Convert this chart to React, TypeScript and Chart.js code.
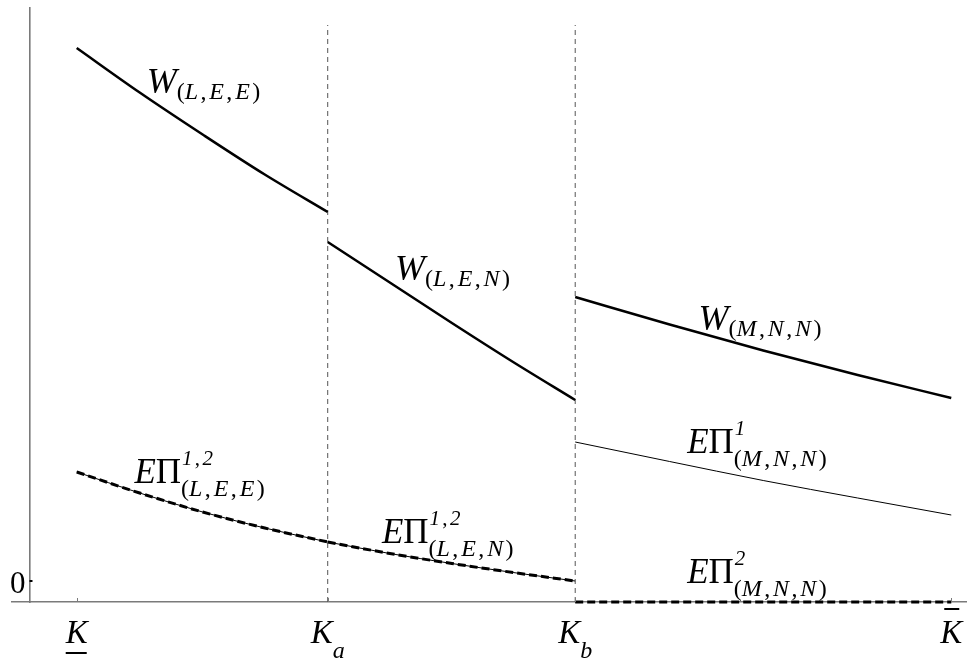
import { useEffect, useRef } from 'react';
import { Chart, registerables } from 'chart.js';

Chart.register(...registerables);

// Capacity thresholds on the horizontal axis
const K_LOW = 1;
const K_A = 3.87;
const K_B = 6.7;
const K_HIGH = 11;

// Axis ranges
const X_MIN = 0.26;
const X_MAX = 11.18;
const Y_MIN = -0.42;
const Y_MAX = 11.46;
const Y_AXIS_AT = 0.46;
const THRESHOLD_TOP = 11.12;

// Sample capacities inside each regime
const X_REGION1 = [1, 1.72, 2.44, 3.15, 3.87];
const X_REGION2 = [3.87, 4.58, 5.29, 5.99, 6.7];
const X_REGION3 = [6.7, 7.78, 8.85, 9.93, 11];

// Welfare in each regime
const W_LEE = [10.66, 9.77, 8.93, 8.13, 7.38];
const W_LEN = [6.78, 5.97, 5.16, 4.38, 3.62];
const W_MNN = [5.68, 5.13, 4.61, 4.12, 3.66];

// Expected profits of firms 1 and 2
const EPI12_LEE = [2.18, 1.76, 1.38, 1.06, 0.78];
const EPI12_LEN = [0.78, 0.55, 0.35, 0.17, 0];
const EPI1_MNN = [2.78, 2.39, 2.01, 1.66, 1.32];
const EPI2_MNN = [-0.42, -0.42, -0.42, -0.42, -0.42];

// Tick labels
const X_TICKS = [K_LOW, K_A, K_B, K_HIGH];
const X_TICK_SUBS = ['', 'a', 'b', ''];
const X_TICK_MARKS = ['under', '', '', 'over'];
const Y_TICKS = [0];
const Y_TICK_LABELS = ['0'];

// Curve annotations: main symbol, superscript, subscript, anchor (data units)
const CURVE_LABELS = [
  { main: 'W', sup: '', sub: '(L,E,E)', x: 1.8, y: 9.76 },
  { main: 'W', sup: '', sub: '(L,E,N)', x: 4.64, y: 6.02 },
  { main: 'W', sup: '', sub: '(M,N,N)', x: 8.11, y: 5.02 },
  { main: 'EΠ', sup: '1,2', sub: '(L,E,E)', x: 1.66, y: 1.96 },
  { main: 'EΠ', sup: '1,2', sub: '(L,E,N)', x: 4.49, y: 0.76 },
  { main: 'EΠ', sup: '1', sub: '(M,N,N)', x: 7.98, y: 2.56 },
  { main: 'EΠ', sup: '2', sub: '(M,N,N)', x: 7.98, y: -0.04 },
];

const SERIF = '"Liberation Serif", "Times New Roman", serif';
const AXIS_GREY = '#7a7a7a';

const zip = (xs: number[], ys: number[]) => xs.map((x, i) => ({ x, y: ys[i] }));

// Letters and digits italic, punctuation and Greek upright; optional italic
// correction and a little air after commas (math typesetting style).
function mathText(
  ctx: CanvasRenderingContext2D,
  text: string,
  x: number,
  y: number,
  size: number,
  draw: boolean,
  correction = true,
) {
  let cx = x;
  const chars = Array.from(text);
  chars.forEach((ch, i) => {
    const italic = /[A-Za-z0-9]/.test(ch);
    ctx.font = `${italic ? 'italic ' : ''}${size}px ${SERIF}`;
    if (draw) ctx.fillText(ch, cx, y);
    cx += ctx.measureText(ch).width;
    const next = chars[i + 1];
    if (next !== undefined && correction) {
      const nextItalic = /[A-Za-z0-9]/.test(next);
      if (italic && !nextItalic) cx += size * 0.1;
      if (ch === ',') cx += size * 0.12;
    }
  });
  return cx - x;
}

const mathLabels = {
  id: 'mathLabels',
  afterDatasetsDraw(chart: any) {
    const { ctx, chartArea } = chart;
    const xs = chart.scales.x;
    const ys = chart.scales.y;
    ctx.save();
    ctx.textBaseline = 'alphabetic';
    ctx.textAlign = 'left';
    ctx.fillStyle = '#000';

    // inward tick marks
    ctx.strokeStyle = AXIS_GREY;
    ctx.lineWidth = 1;
    X_TICKS.forEach((v) => {
      const px = Math.round(xs.getPixelForValue(v)) + 0.5;
      ctx.beginPath();
      ctx.moveTo(px, chartArea.bottom);
      ctx.lineTo(px, chartArea.bottom - 4);
      ctx.stroke();
    });
    const axisX = xs.getPixelForValue(Y_AXIS_AT);
    ctx.strokeStyle = '#000';
    ctx.lineWidth = 2;
    Y_TICKS.forEach((v, i) => {
      const py = ys.getPixelForValue(v);
      ctx.beginPath();
      ctx.moveTo(axisX, py);
      ctx.lineTo(axisX + 3, py);
      ctx.stroke();
      ctx.font = `31px ${SERIF}`;
      ctx.textAlign = 'right';
      ctx.fillText(Y_TICK_LABELS[i], axisX - 4, py + 12);
      ctx.textAlign = 'left';
    });

    // horizontal axis labels
    const base = chartArea.bottom + 41;
    X_TICKS.forEach((v, i) => {
      const px = xs.getPixelForValue(v);
      ctx.font = `italic 33px ${SERIF}`;
      const kw = ctx.measureText('K').width;
      const subW = X_TICK_SUBS[i] ? mathText(ctx, X_TICK_SUBS[i], 0, 0, 24, false) : 0;
      const left = px - (kw + subW) / 2;
      ctx.font = `italic 33px ${SERIF}`;
      ctx.fillText('K', left, base);
      if (X_TICK_SUBS[i]) mathText(ctx, X_TICK_SUBS[i], left + kw, base + 15, 24, true);
      if (X_TICK_MARKS[i] === 'under') ctx.fillRect(left, base + 9, kw - 1, 2);
      if (X_TICK_MARKS[i] === 'over') ctx.fillRect(px - 7, base - 35, 15, 2);
    });

    // curve annotations
    CURVE_LABELS.forEach((lbl) => {
      const px = xs.getPixelForValue(lbl.x);
      const py = ys.getPixelForValue(lbl.y);
      const isW = lbl.main === 'W';
      const mw = mathText(ctx, lbl.main, px, py, isW ? 36 : 35, true, false);
      const sx = px + mw;
      if (lbl.sup) {
        mathText(ctx, lbl.sup, sx + 1, py - 18, 21, true);
        mathText(ctx, lbl.sub, sx, py + 13, 24, true);
      } else {
        mathText(ctx, lbl.sub, sx, py + 6, 24, true);
      }
    });
    ctx.restore();
  },
};

export default function App() {
  const canvasRef = useRef<HTMLCanvasElement>(null);

  useEffect(() => {
    const canvas = canvasRef.current;
    if (!canvas) return;

    const solid = (data: { x: number; y: number }[], width: number) => ({
      data,
      borderColor: '#000',
      borderWidth: width,
      pointRadius: 0,
      cubicInterpolationMode: 'monotone' as const,
      clip: false as const,
    });
    const dashed = (data: { x: number; y: number }[]) => ({
      ...solid(data, 3),
      borderDash: [8, 4],
    });
    const threshold = (k: number) => ({
      data: [{ x: k, y: Y_MIN }, { x: k, y: THRESHOLD_TOP }],
      borderColor: '#555',
      borderWidth: 1,
      borderDash: [5, 4],
      pointRadius: 0,
    });

    const chart = new Chart(canvas, {
      type: 'line',
      data: {
        datasets: [
          dashed(zip(X_REGION1, EPI12_LEE)),
          dashed(zip(X_REGION2, EPI12_LEN)),
          dashed(zip(X_REGION3, EPI2_MNN)),
          solid(zip(X_REGION1, EPI12_LEE), 1),
          solid(zip(X_REGION2, EPI12_LEN), 1),
          solid(zip(X_REGION3, EPI1_MNN), 1),
          solid(zip(X_REGION1, W_LEE), 2.5),
          solid(zip(X_REGION2, W_LEN), 2.5),
          solid(zip(X_REGION3, W_MNN), 2.5),
          threshold(K_A),
          threshold(K_B),
        ] as any,
      },
      options: {
        animation: false,
        responsive: false,
        layout: { padding: { left: 12, right: 0, top: 8, bottom: 58 } },
        plugins: { legend: { display: false }, tooltip: { enabled: false } },
        scales: {
          x: {
            type: 'linear',
            min: X_MIN,
            max: X_MAX,
            ticks: { display: false },
            grid: { display: false, drawTicks: false },
            border: { display: true, color: AXIS_GREY, width: 1.6 },
          },
          y: {
            type: 'linear',
            min: Y_MIN,
            max: Y_MAX,
            position: { x: Y_AXIS_AT } as any,
            ticks: { display: false },
            grid: { display: false, drawTicks: false },
            border: { display: true, color: AXIS_GREY, width: 1.6 },
          },
        },
      },
      plugins: [mathLabels],
    });

    return () => chart.destroy();
  }, []);

  return (
    <div style={{ position: 'absolute', left: 0, top: 0, width: 967, height: 660, background: '#fff' }}>
      <canvas ref={canvasRef} width={967} height={660} style={{ display: 'block' }} />
    </div>
  );
}
